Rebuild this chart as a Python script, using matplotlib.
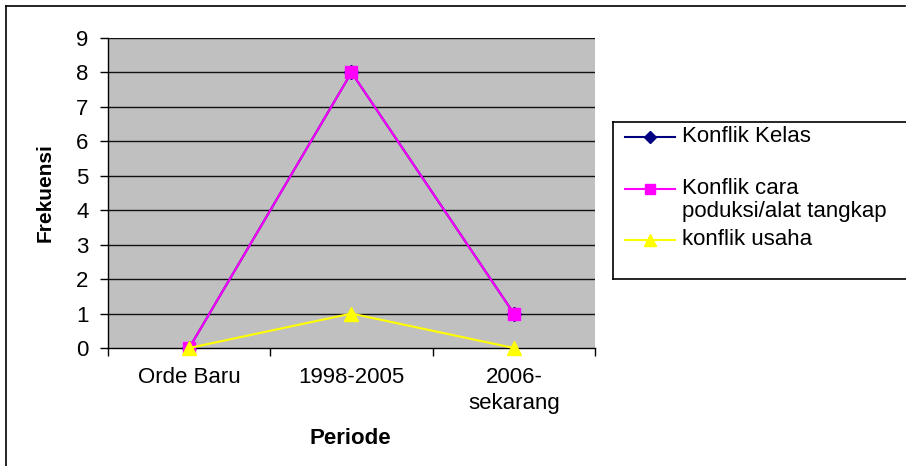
import matplotlib.pyplot as plt
from matplotlib.lines import Line2D

W, H = 906, 466

periode = ["Orde Baru", "1998-2005", "2006-\nsekarang"]
konflik_kelas = [0, 8, 1]
konflik_cara = [0, 8, 1]
konflik_usaha = [0, 1, 0]
y_ticks = list(range(0, 10))

labels = ["Konflik Kelas", "Konflik cara\npoduksi/alat tangkap", "konflik usaha"]
colors = ["#000080", "#FF00FF", "#FFFF00"]
markers = ["D", "s", "^"]
msizes = [7, 8, 10]

plt.rcParams["font.family"] = ["Liberation Sans", "DejaVu Sans"]


def fx(x):
    return x / W


def fy(y):
    return 1 - y / H


fig = plt.figure(figsize=(W / 100, H / 100), dpi=100)
fig.patch.set_facecolor("white")

# outer chart border (only left and top visible in the crop)
fig.add_artist(Line2D([fx(5.5), fx(5.5)], [fy(5.5), 0], color="black", lw=1.2))
fig.add_artist(Line2D([fx(5.5), fx(905)], [fy(5.5), fy(5.5)], color="black", lw=1.2))

ax = fig.add_axes([fx(108), fy(348), fx(595) - fx(108), fy(38) - fy(348)])
ax.set_facecolor("#C0C0C0")
x = list(range(len(periode)))
series = [konflik_kelas, konflik_cara, konflik_usaha]
for i, vals in enumerate(series):
    ax.plot(x, vals, color=colors[i], lw=1.5, marker=markers[i], ms=msizes[i],
            mfc=colors[i], mec=colors[i], clip_on=False, zorder=3 + i)

ax.set_xlim(-0.5, len(periode) - 0.5)
ax.set_ylim(0, 9)
ax.set_yticks(y_ticks)
for yv in y_ticks[1:]:
    ax.axhline(yv, color="#111111", lw=1.0, zorder=1)

ax.set_xticks(x)
ax.set_xticklabels(periode, fontsize=16, linespacing=1.3)
ax.set_xticks([v - 0.5 for v in range(len(periode) + 1)], minor=True)
ax.tick_params(axis="x", which="major", length=0, pad=14)
ax.tick_params(axis="x", which="minor", length=6, width=1, direction="out")
ax.tick_params(axis="y", length=6, width=1, direction="out", pad=8, labelsize=16)

for s in ["top", "right"]:
    ax.spines[s].set_visible(False)
ax.spines["left"].set_color("black")
ax.spines["bottom"].set_color("black")
ax.spines["left"].set_linewidth(1.0)
ax.spines["bottom"].set_linewidth(1.0)

fig.text(fx(45), fy(193), "Frekuensi", rotation=90, ha="center", va="center",
         fontsize=15, fontweight="bold")
fig.text(fx(350), fy(439), "Periode", ha="center", va="center",
         fontsize=16, fontweight="bold")

# legend box
lax = fig.add_axes([fx(613), fy(279), fx(906) - fx(613), fy(122) - fy(279)])
lax.set_xlim(613, 906)
lax.set_ylim(279, 122)
lax.set_xticks([])
lax.set_yticks([])
lax.patch.set_facecolor("white")
for s in ["left", "top", "bottom"]:
    lax.spines[s].set_color("black")
    lax.spines[s].set_linewidth(1.2)
lax.spines["right"].set_visible(False)

entry_y = [137, 189, 240]
for i, lab in enumerate(labels):
    lax.plot([625, 675], [entry_y[i], entry_y[i]], color=colors[i], lw=1.5)
    lax.plot([650], [entry_y[i]], marker=markers[i], ms=msizes[i] - 1,
             color=colors[i], mec=colors[i])
    lax.text(682, entry_y[i] - 11, lab, ha="left", va="top", fontsize=16,
             linespacing=1.15)

fig.savefig("out.png", dpi=100)
